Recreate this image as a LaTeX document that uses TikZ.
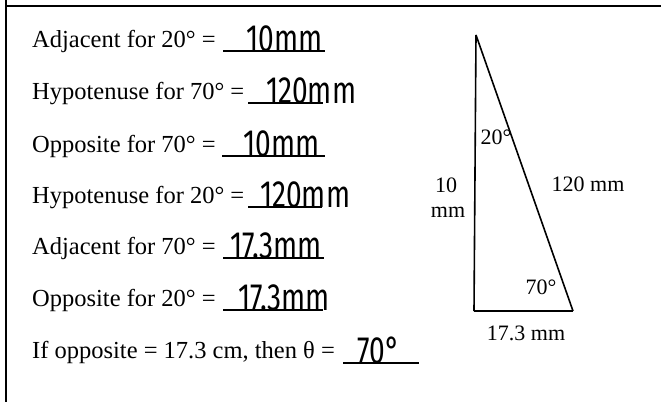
\documentclass[tikz,border=0pt]{standalone}
\usepackage{fontspec}
\setmainfont{Liberation Serif}
\newfontfamily\handfont{Fira Sans}[FakeStretch=0.74]
\begin{document}
\begin{tikzpicture}[x=1pt,y=-1pt,
  qtext/.style={anchor=base west,inner sep=0pt,font=\fontsize{24.5}{28}\selectfont},
  ans/.style={anchor=base west,inner sep=0pt,font=\handfont\fontsize{38}{40}\selectfont},
  blank/.style={line width=1.3pt},
  tlabel/.style={inner sep=0pt,font=\fontsize{22}{24}\selectfont},
  side/.style={line width=1.6pt}]
\useasboundingbox (0,0) rectangle (661,402);
% frame
\draw[line width=2.6pt] (5,6) -- (661,6);
\draw[line width=1.4pt] (6,0) -- (6,402);
% questions
\node[qtext] (q1) at (32,47) {Adjacent for 20° =};
\node[qtext] (q2) at (32,99) {Hypotenuse for 70° =};
\node[qtext] (q3) at (32,152) {Opposite for 70° =};
\node[qtext] (q4) at (32,203) {Hypotenuse for 20° =};
\node[qtext] (q5) at (32,254) {Adjacent for 70° =};
\node[qtext] (q6) at (32,306) {Opposite for 20° =};
\node[qtext] (q7) at (32,358) {If opposite = 17.3 cm, then θ =};
% blanks
\draw[blank] (223,51) -- (325,51);
\draw[blank] (248,103) -- (323,103);
\draw[blank] (222,156) -- (325,156);
\draw[blank] (248,207) -- (322,207);
\draw[blank] (223,258) -- (324,258);
\draw[blank] (223,310) -- (323,310);
\draw[blank] (343,363) -- (419,363);
% answers
\node[ans] (a1) at (246,51) {10mm};
\node[ans] (a2) at (266,103) {120mm};
\node[ans] (a3) at (243,156) {10mm};
\node[ans] (a4) at (260,207) {120mm};
\node[ans] (a5) at (230,258) {17.3mm};
\node[ans] (a6) at (238,310) {17.3mm};
\node[ans] (a7) at (357,363) {70°};
% triangle
\coordinate (T) at (476,35);
\coordinate (BL) at (474,311);
\coordinate (BR) at (573,311);
\draw[side] (T) -- (BL);
\draw[side] (T) -- (BR);
\draw[line width=2.6pt] (BL) -- (BR);
\node[tlabel] (ang20) at (496,137) {20°};
\node[tlabel] (ang70) at (541,287) {70°};
\node[tlabel] (hyp) at (588,184) {120 mm};
\node[tlabel] (adj1) at (446,185) {10};
\node[tlabel] (adj2) at (448,212) {mm};
\node[tlabel] (opp) at (526,333) {17.3 mm};
\end{tikzpicture}
\end{document}
